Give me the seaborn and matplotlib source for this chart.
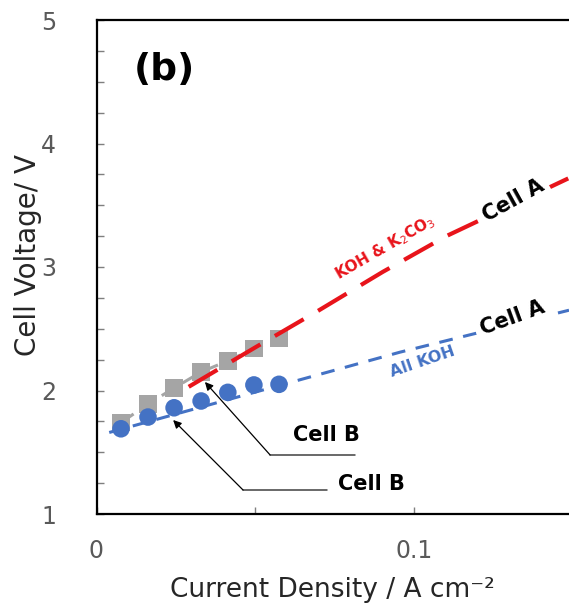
import matplotlib
matplotlib.use("Agg")
import matplotlib.pyplot as plt
import seaborn as sns
import numpy as np
from matplotlib.ticker import MultipleLocator, FixedLocator

# ---- data ----
cellB_mix_x = [0.0077, 0.0162, 0.0244, 0.0329, 0.0413, 0.0495, 0.0574]
cellB_mix_y = [1.74, 1.89, 2.02, 2.15, 2.24, 2.34, 2.42]
cellB_koh_x = [0.0077, 0.0162, 0.0244, 0.0329, 0.0413, 0.0495, 0.0574]
cellB_koh_y = [1.69, 1.785, 1.86, 1.915, 1.985, 2.045, 2.05]
cellA_mix_x = [0.029, 0.05, 0.07, 0.09, 0.11, 0.1486]
cellA_mix_y = [2.03, 2.35, 2.65, 2.96, 3.25, 3.72]
cellA_koh_x = [0.004, 0.0574, 0.0954, 0.1486]
cellA_koh_y = [1.66, 2.04, 2.31, 2.65]
x_ticks = [0, 0.1]
x_tick_labels = ["0", "0.1"]
y_ticks = [1, 2, 3, 4, 5]

RED = "#E8141B"
BLUE = "#4472C4"
GRAY = "#A5A5A5"

sns.set_theme(style="white")
plt.rcParams["font.family"] = ["DejaVu Sans"]

fig = plt.figure(figsize=(5.69, 6.08), dpi=100)
ax = fig.add_axes([96.5 / 569, 1 - 514 / 608, 1 - 96.5 / 569, (514 - 20) / 608])

# gray cell B (KOH & K2CO3) line + squares
sns.lineplot(x=cellB_mix_x, y=cellB_mix_y, ax=ax, color=GRAY, lw=2.2,
             linestyle=(0, (5, 3)), sort=False, estimator=None, zorder=2)
sns.scatterplot(x=cellB_mix_x, y=cellB_mix_y, ax=ax, color=GRAY, marker="s",
                s=160, edgecolor="none", zorder=3)
# red cell A (KOH & K2CO3)
sns.lineplot(x=cellA_mix_x, y=cellA_mix_y, ax=ax, color=RED, lw=3.0,
             linestyle=(0, (8, 4)), sort=False, estimator=None, zorder=4)
# blue cell A (All KOH) + cell B circles
sns.lineplot(x=cellA_koh_x, y=cellA_koh_y, ax=ax, color=BLUE, lw=2.2,
             linestyle=(0, (4.5, 3.5)), sort=False, estimator=None, zorder=4)
sns.scatterplot(x=cellB_koh_x, y=cellB_koh_y, ax=ax, color=BLUE, marker="o",
                s=160, edgecolor="none", zorder=5)

ax.set_xlim(0, 0.1486)
ax.set_ylim(1, 5)

ax.xaxis.set_major_locator(FixedLocator(x_ticks))
ax.set_xticklabels(x_tick_labels)
ax.xaxis.set_minor_locator(FixedLocator([0.05]))
ax.yaxis.set_major_locator(FixedLocator(y_ticks))
ax.yaxis.set_minor_locator(MultipleLocator(0.25))
ax.tick_params(axis="both", which="both", direction="in", length=5, width=1,
               color="#7F7F7F", labelcolor="#595959", labelsize=17)
ax.tick_params(axis="y", which="both", left=True, pad=29)
ax.tick_params(axis="x", which="both", bottom=True, pad=18)

for s in ["left", "bottom", "top"]:
    ax.spines[s].set_color("black")
    ax.spines[s].set_linewidth(1.6)
ax.spines["right"].set_visible(False)

ax.set_xlabel("Current Density / A cm\u207b\u00b2", fontsize=19, color="#262626", labelpad=10)
ax.set_ylabel("Cell Voltage/ V", fontsize=20, color="#262626")
ax.yaxis.set_label_coords(-0.115, 0.525)

# annotations
ax.text(0.0215, 4.595, "(b)", fontsize=27, fontweight="bold", ha="center",
        va="center", color="black")
ax.text(0.0907, 3.16, "KOH & K$_2$CO$_3$", fontsize=11, fontweight="bold",
        color=RED, rotation=30, ha="center", va="center", rotation_mode="anchor")
box = dict(boxstyle="square,pad=0.25", fc="white", ec="none")
ax.text(0.131, 3.54, "Cell A", fontsize=15, fontweight="bold", color="black",
        rotation=29, ha="center", va="center", rotation_mode="anchor", bbox=box,
        zorder=6)
ax.text(0.1307, 2.587, "Cell A", fontsize=15, fontweight="bold", color="black",
        rotation=20, ha="center", va="center", rotation_mode="anchor", bbox=box,
        zorder=6)
ax.text(0.1024, 2.23, "All KOH", fontsize=11.5, fontweight="bold", color=BLUE,
        rotation=19, ha="center", va="center", rotation_mode="anchor")

ax.text(0.0723, 1.64, "Cell B", fontsize=15, fontweight="bold", color="black",
        ha="center", va="center")
ax.text(0.0864, 1.243, "Cell B", fontsize=15, fontweight="bold", color="black",
        ha="center", va="center")
ax.plot([0.0546, 0.0813], [1.478, 1.478], color="#404040", lw=1.1)
ax.plot([0.0461, 0.0725], [1.194, 1.194], color="#404040", lw=1.1)
ax.annotate("", xy=(0.0341, 2.069), xytext=(0.0546, 1.478),
            arrowprops=dict(arrowstyle="-|>", color="black", lw=0.9,
                            mutation_scale=12, shrinkA=0, shrinkB=0))
ax.annotate("", xy=(0.0241, 1.761), xytext=(0.0461, 1.194),
            arrowprops=dict(arrowstyle="-|>", color="black", lw=0.9,
                            mutation_scale=12, shrinkA=0, shrinkB=0))

fig.savefig("out.png", dpi=100)
